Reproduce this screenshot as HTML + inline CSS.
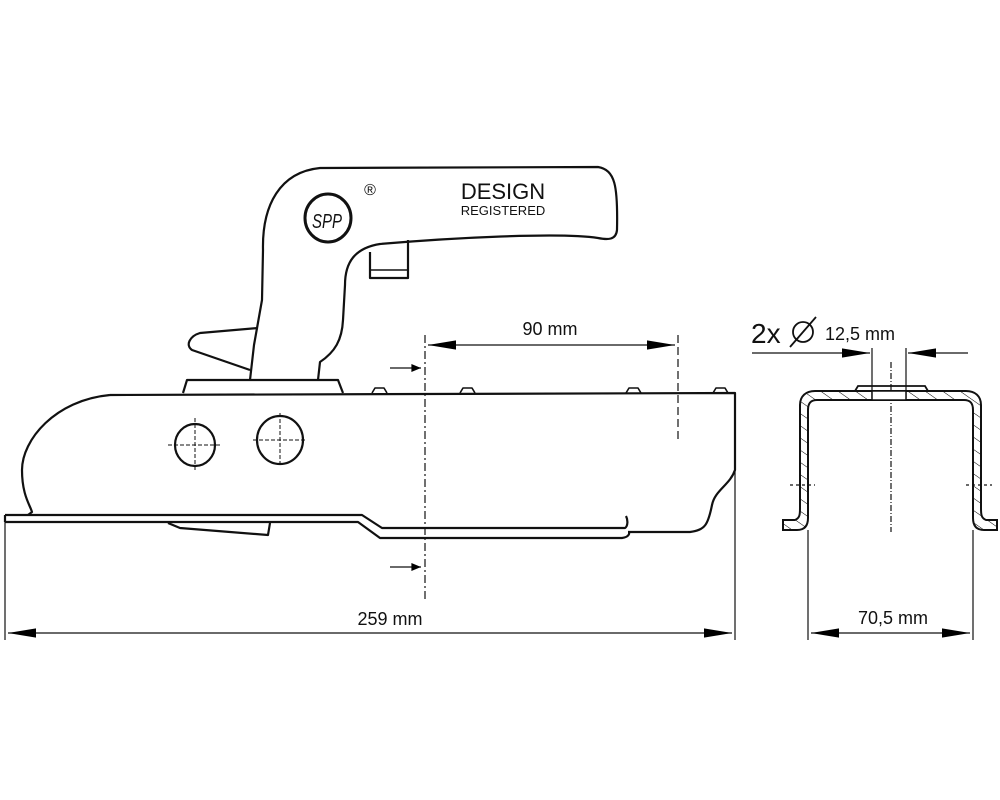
<!DOCTYPE html>
<html><head><style>html,body{margin:0;padding:0;background:#fff}svg{display:block}</style></head>
<body>
<svg width="1000" height="800" viewBox="0 0 1000 800" xmlns="http://www.w3.org/2000/svg" font-family="Liberation Sans, sans-serif">
<defs>
<marker id="a" viewBox="0 0 12 10" refX="12" refY="5" markerWidth="12" markerHeight="8" orient="auto-start-reverse" markerUnits="userSpaceOnUse"><path d="M0,0 L12,5 L0,10z" fill="#000"/></marker>
<marker id="b" viewBox="0 0 30 10" refX="30" refY="5" markerWidth="28" markerHeight="10" orient="auto-start-reverse" markerUnits="userSpaceOnUse"><path d="M0,0 L30,5 L0,10z" fill="#000"/></marker>
<pattern id="h" width="10" height="10" patternUnits="userSpaceOnUse" patternTransform="rotate(-55)"><line x1="0" y1="0" x2="0" y2="10" stroke="#000" stroke-width="1"/></pattern>
</defs>
<g fill="none" stroke="#111" stroke-width="2.2" stroke-linejoin="round">
<path d="M250,380 L254,345 L262,300 L263,250 C262,205 280,172 320,168 L598,167 C615,170 618,185 617,230 C616,240 608,240 598,238 C560,232 450,238 380,244 C355,248 345,262 345,285 L343,320 C342,340 335,352 320,362 L318,380"/>
<path d="M370,252 L370,278 L408,278 L408,240"/>
<path d="M370,270 L408,270" stroke-width="1.5"/>
<path d="M258,328 L200,333 C190,336 185,345 192,350 L250,370"/>
<path d="M183,393 L187,380 L338,380 L343,393"/>
<path d="M372,393 L375,388 L384,388 L387,393 M460,393 L463,388 L472,388 L475,393 M626,393 L629,388 L638,388 L641,393 M713,393 L716,388 L725,388 L728,393" stroke-width="1.6"/>
<path d="M110,395 L735,393 L735,470 C730,485 715,490 712,505 C708,525 705,530 690,532 L628,532"/>
<path d="M110,395 C55,400 22,440 22,470 C22,495 30,505 32,512 L28,515"/>
<path d="M5,515 L362,515 L382,528 L625,528 C628,526 628,520 626,516 M5,522 L358,522 L380,538 L622,538 C630,537 630,532 628,532 M5,515 L5,522"/>
<path d="M168,523 L180,528 L268,535 L270,523"/>
<ellipse cx="195" cy="445" rx="20" ry="21"/>
<ellipse cx="280" cy="440" rx="23" ry="24"/>
</g>
<g stroke="#111" stroke-width="1" stroke-dasharray="4,2" fill="none">
<path d="M168,445 L222,445 M195,418 L195,472 M253,440 L307,440 M280,413 L280,467"/>
</g>
<ellipse cx="328" cy="218" rx="23" ry="24" fill="none" stroke="#111" stroke-width="3"/>
<text x="327" y="228" font-size="20" font-style="italic" text-anchor="middle" fill="#111" textLength="30" lengthAdjust="spacingAndGlyphs">SPP</text>
<text x="370" y="195" font-size="16" text-anchor="middle" fill="#111">®</text>
<text x="503" y="199" font-size="22" text-anchor="middle" fill="#111">DESIGN</text>
<text x="503" y="215" font-size="13" text-anchor="middle" fill="#111">REGISTERED</text>
<g stroke="#111" stroke-width="1.2" fill="none">
<path d="M425,335 L425,600" stroke-dasharray="8,3,2,3"/>
<path d="M678,335 L678,440" stroke-dasharray="8,4"/>
<path d="M428,345 L675,345" marker-start="url(#b)" marker-end="url(#b)"/>
<path d="M390,368 L421,368" marker-end="url(#a)"/>
<path d="M390,567 L421,567" marker-end="url(#a)"/>
<path d="M5,522 L5,640 M735,470 L735,640"/>
<path d="M8,633 L732,633" marker-start="url(#b)" marker-end="url(#b)"/>
<path d="M752,353 L870,353" marker-end="url(#b)"/>
<path d="M968,353 L908,353" marker-end="url(#b)"/>
<path d="M872,348 L872,398 M906,348 L906,398"/>
<path d="M891,362 L891,532" stroke-dasharray="6,2,1,2"/>
<path d="M808,530 L808,640 M973,530 L973,640"/>
<path d="M811,633 L970,633" marker-start="url(#b)" marker-end="url(#b)"/>
<path d="M790,485 L815,485 M966,485 L992,485" stroke-dasharray="3,3"/>
</g>
<path d="M783,530 L783,520 L795,520 C800,518 800,514 800,508 L800,405 C800,396 806,391 815,391 L966,391 C975,391 981,396 981,405 L981,508 C981,514 981,518 986,520 L997,520 L997,530 L984,530 C976,530 973,525 973,518 L973,410 C973,403 970,400 964,400 L817,400 C811,400 808,403 808,410 L808,518 C808,525 805,530 797,530 Z" fill="url(#h)" stroke="#111" stroke-width="2"/>
<path d="M855,391 L858,386 L925,386 L928,391" fill="none" stroke="#111" stroke-width="1.8"/>
<rect x="872" y="391" width="34" height="9" fill="#fff" stroke="#111" stroke-width="1.5"/>
<g fill="#111">
<text x="550" y="335" font-size="18" text-anchor="middle">90 mm</text>
<text x="390" y="625" font-size="18" text-anchor="middle">259 mm</text>
<text x="893" y="624" font-size="18" text-anchor="middle">70,5 mm</text>
<text x="751" y="343" font-size="28">2x</text>
<text x="825" y="340" font-size="18">12,5 mm</text>
</g>
<circle cx="803" cy="332" r="10" fill="none" stroke="#111" stroke-width="1.8"/>
<line x1="790" y1="347" x2="816" y2="317" stroke="#111" stroke-width="1.8"/>
</svg>
</body></html>
